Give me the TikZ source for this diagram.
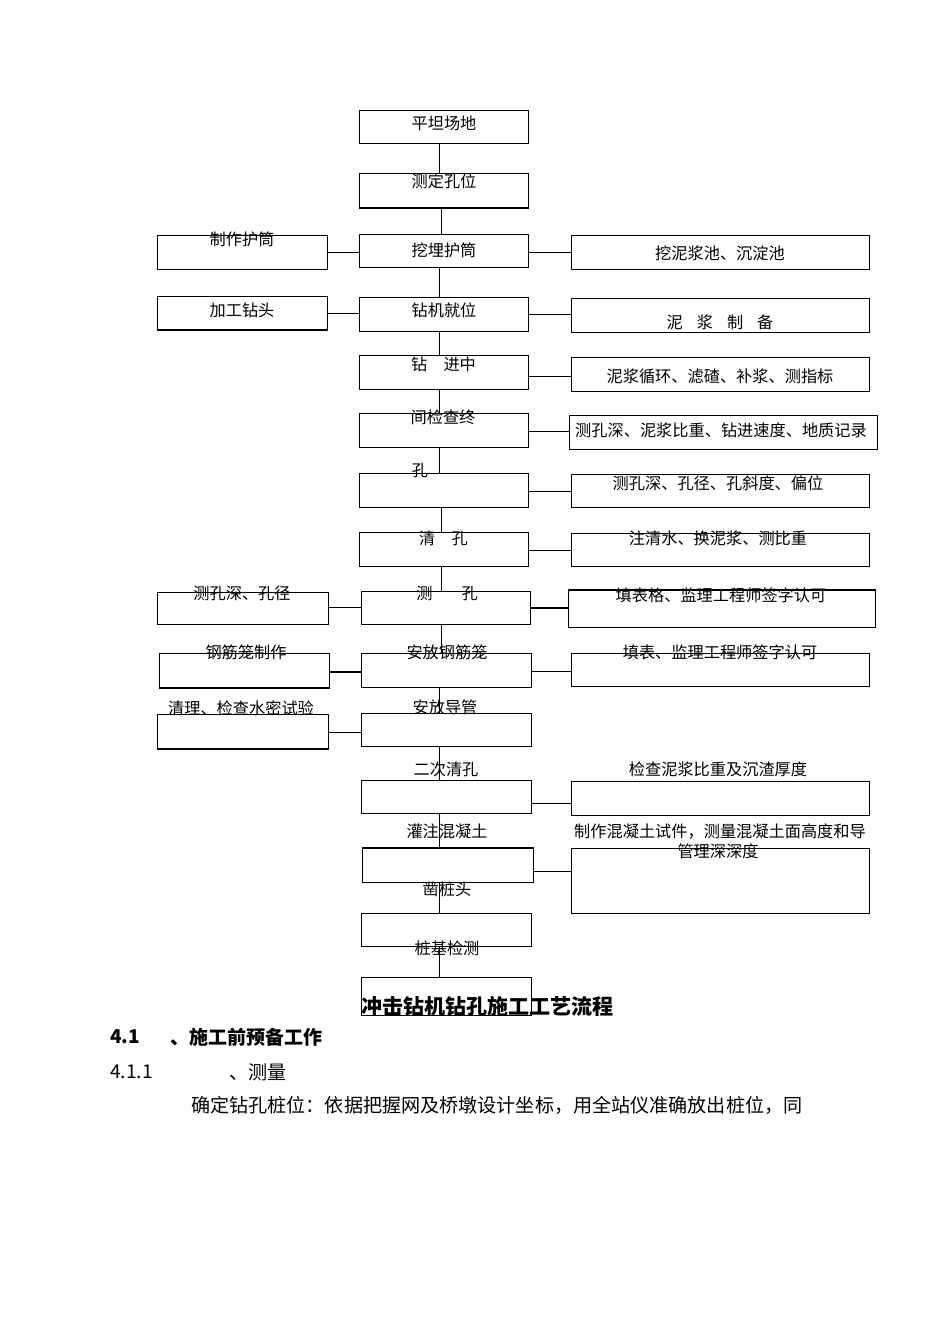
\documentclass[tikz,border=0pt]{standalone}
\usepackage{fontspec}
\setmainfont{Noto Sans CJK SC}
\usetikzlibrary{fit}
\newcommand\mybox[5]{\node[box,fit={(#2,#3) (#4,#5)}] (#1) {};}
\newcommand\hlink[4][link]{\draw[#1] (#2.east |- 0,#4) -- (#3.west |- 0,#4);}
\begin{document}
\begin{tikzpicture}[x=1pt,y=-1pt,
  box/.style={draw,line width=1pt,inner sep=0pt,rectangle},
  txt/.style={font=\fontsize{16.2}{18}\selectfont,inner sep=0pt},
  body/.style={font=\fontsize{19.1}{22}\selectfont,inner sep=0pt,anchor=west},
  bodyb/.style={font=\bfseries\fontsize{19}{22}\selectfont,inner sep=0pt,anchor=west},
  link/.style={line width=1pt},
  heavy/.style={line width=2pt}]
\useasboundingbox[fill=white] (0,0) rectangle (950,1344);
% central column
\mybox{c1}{359}{110}{528}{143}
\mybox{c2}{359}{173}{528}{207}
\mybox{c3}{359}{234}{528}{267}
\mybox{c4}{359}{297}{528}{331}
\mybox{c5}{359}{355}{528}{389}
\mybox{c6}{359}{413}{528}{447}
\mybox{c7}{359}{473}{528}{507}
\mybox{c8}{359}{532}{528}{566}
\mybox{c9}{361}{591}{530}{624}
\mybox{c10}{361}{653}{531}{687}
\mybox{c11}{361}{713}{531}{746}
\mybox{c12}{361}{780}{531}{813}
\mybox{c13}{362}{848}{533}{882}
\mybox{c14}{361}{913}{531}{946}
\mybox{c15}{361}{977}{531}{1015}
% left column
\mybox{l1}{157}{235}{327}{269}
\mybox{l2}{157}{296}{327}{329}
\mybox{l3}{157}{592}{328}{624}
\mybox{l4}{159}{653}{329}{687}
\mybox{l5}{157}{714}{328}{748}
% right column
\mybox{r1}{571}{235}{869}{269}
\mybox{r2}{571}{298}{869}{332}
\mybox{r3}{571}{357}{869}{391}
\mybox{r4}{569}{415}{877}{449}
\mybox{r5}{571}{474}{869}{507}
\mybox{r6}{571}{533}{869}{566}
\mybox{r7}{568}{590}{875}{627}
\mybox{r8}{571}{653}{869}{686}
\mybox{r9}{571}{781}{869}{815}
\mybox{r10}{571}{848}{869}{913}
% heavier edges
\draw[heavy] (c2.south west) -- (c2.south east);
\draw[heavy] (c13.north west) -- (c13.north east);
\draw[heavy] (l2.south west) -- (l2.south east);
\draw[heavy] (l4.south west) -- (l4.south east);
\draw[heavy] (l5.south west) -- (l5.south east);
\draw[heavy] (r7.north west) -- (r7.north east);
% vertical connectors
\coordinate (V) at (439,0);
\coordinate (W) at (441,0);
\draw[link] (c1.south -| V) -- (c2.north -| V);
\draw[link] (c2.south -| W) -- (c3.north -| W);
\draw[link] (c3.south -| V) -- (c4.north -| V);
\draw[link] (c4.south -| V) -- (c5.north -| V);
\draw[link] (c5.south -| V) -- (c6.north -| V);
\draw[link] (c6.south -| V) -- (c7.north -| V);
\draw[link] (c7.south -| W) -- (c8.north -| W);
\draw[link] (c8.south -| W) -- (c9.north -| W);
\draw[link] (c9.south -| W) -- (c10.north -| W);
\draw[link] (c10.south -| V) -- (c11.north -| V);
\draw[link] (c11.south -| V) -- (c12.north -| V);
\draw[link] (c12.south -| V) -- (c13.north -| V);
\draw[link] (c13.south -| V) -- (c14.north -| V);
\draw[link] (c14.south -| V) -- (c15.north -| V);
% horizontal connectors
\hlink{l1}{c3}{252}
\hlink{c3}{r1}{252}
\hlink{l2}{c4}{313}
\hlink{c4}{r2}{314}
\hlink{c5}{r3}{376}
\hlink{c6}{r4}{431}
\hlink{c7}{r5}{491}
\hlink{c8}{r6}{550}
\hlink{l3}{c9}{607}
\hlink[heavy]{c9}{r7}{608}
\hlink[heavy]{l4}{c10}{672}
\hlink{c10}{r8}{671}
\hlink{l5}{c11}{732}
\hlink{c12}{r9}{803}
\hlink{c13}{r10}{871}
% central texts
\node[txt] (t1) at (444,123) {平坦场地};
\node[txt] (t2) at (444,181) {测定孔位};
\node[txt] (t3) at (444,250) {挖埋护筒};
\node[txt] (t4) at (444,310) {钻机就位};
\node[txt] (t5) at (443.5,364) {钻　进中};
\node[txt] (t6) at (443,417) {间检查终};
\node[txt] (t7) at (420,471) {孔};
\node[txt] (t8) at (443.5,538) {清　孔};
\node[txt] (t9) at (447,593) {测\hspace{29pt}孔};
\node[txt] (t10) at (447,652) {安放钢筋笼};
\node[txt] (t11) at (445,707) {安放导管};
\node[txt] (t12) at (446,769) {二次清孔};
\node[txt] (t13) at (447,831) {灌注混凝土};
\node[txt] (t14) at (447,889) {凿桩头};
\node[txt] (t15) at (447,948) {桩基检测};
% left texts
\node[txt] (tl1) at (242,239) {制作护筒};
\node[txt] (tl2) at (242,310) {加工钻头};
\node[txt] (tl3) at (242,593) {测孔深、孔径};
\node[txt] (tl4) at (246,652) {钢筋笼制作};
\node[txt] (tl5) at (241,708) {清理、检查水密试验};
% right texts
\node[txt] (tr1) at (720,253) {挖泥浆池、沉淀池};
\node[txt] (tr2) at (720,322) {泥\hspace{14pt}浆\hspace{14pt}制\hspace{14pt}备};
\node[txt] (tr3) at (720,376) {泥浆循环、滤碴、补浆、测指标};
\node[txt] (tr4) at (721,430) {测孔深、泥浆比重、钻进速度、地质记录};
\node[txt] (tr5) at (718,483) {测孔深、孔径、孔斜度、偏位};
\node[txt] (tr6) at (718,538) {注清水、换泥浆、测比重};
\node[txt] (tr7) at (721,595) {填表格、监理工程师签字认可};
\node[txt] (tr8) at (720,652) {填表、监理工程师签字认可};
\node[txt] (tr9) at (718,769) {检查泥浆比重及沉渣厚度};
\node[txt] (tr10) at (720,832) {制作混凝土试件，测量混凝土面高度和导};
\node[txt] (tr11) at (718,851) {管理深深度};
% title and body text
\node[font=\bfseries\fontsize{21}{24}\selectfont,inner sep=0pt] (title) at (487,1006) {冲击钻机钻孔施工工艺流程};
\node[bodyb] (s1) at (110,1037) {4.1};
\node[bodyb] (s2) at (170,1037) {、施工前预备工作};
\node[body] (s3) at (110,1072) {4.1.1};
\node[body] (s4) at (229,1072) {、测量};
\node[body] (s5) at (191,1105) {确定钻孔桩位：依据把握网及桥墩设计坐标，用全站仪准确放出桩位，同};
\end{tikzpicture}
\end{document}
